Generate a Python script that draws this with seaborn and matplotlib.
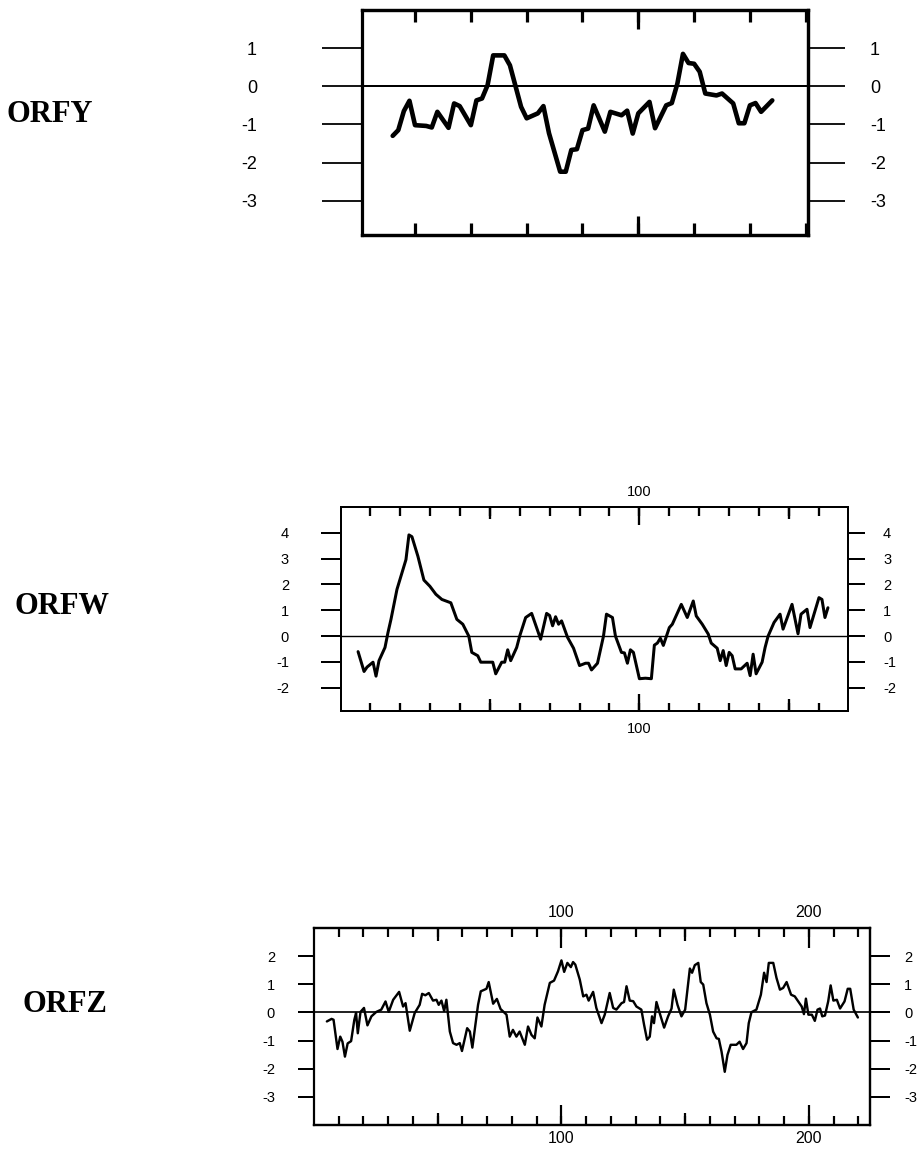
import matplotlib
matplotlib.use("Agg")
import numpy as np
import matplotlib.pyplot as plt
import seaborn as sns

# hydropathy profiles (residue position, value)
orfy_pos = [6, 7, 8, 9, 10, 12, 13, 14, 16, 17, 18, 20, 21, 22, 23, 24, 26, 27, 29, 30,
            32, 33, 34, 36, 37, 38, 39, 40, 41, 42, 44, 45, 47, 48, 49, 50, 52, 53, 55, 56,
            57, 58, 59, 60, 61, 62, 64, 65, 67, 68, 69, 70, 71, 72, 74]
orfy_val = [-1.30, -1.15, -0.65, -0.38, -1.02, -1.04, -1.08, -0.67, -1.09, -0.45, -0.52, -1.02,
            -0.37, -0.32, 0.03, 0.81, 0.81, 0.55, -0.54, -0.84, -0.71, -0.52, -1.23, -2.24,
            -2.24, -1.67, -1.65, -1.15, -1.11, -0.50, -1.19, -0.67, -0.76, -0.64, -1.24, -0.71,
            -0.41, -1.10, -0.50, -0.44, 0.07, 0.85, 0.61, 0.59, 0.38, -0.19, -0.24, -0.19,
            -0.45, -0.97, -0.97, -0.50, -0.44, -0.67, -0.37]

orfw_pos = [6, 8, 9, 11, 12, 13, 15, 16, 17, 19, 22, 23, 24, 26, 28, 30, 32, 34, 37, 39,
            41, 43, 44, 46, 47, 51, 52, 54, 55, 56, 57, 59, 60, 62, 64, 67, 69, 70, 71, 72,
            73, 74, 76, 78, 80, 82, 83, 84, 86, 88, 89, 91, 92, 94, 95, 96, 97, 98, 100, 102,
            104, 105, 106, 107, 108, 110, 111, 114, 116, 118, 119, 121, 123, 124, 126, 127, 128, 129, 130, 131,
            132, 134, 136, 137, 138, 139, 141, 142, 143, 145, 147, 148, 151, 153, 154, 156, 157, 160, 161, 162,
            163]
orfw_val = [-0.60, -1.37, -1.20, -1.01, -1.55, -0.95, -0.44, 0.14, 0.65, 1.81, 2.96, 3.92, 3.85,
            3.09, 2.17, 1.93, 1.62, 1.42, 1.29, 0.65, 0.46, 0.00, -0.63, -0.76, -1.01, -1.01,
            -1.46, -1.01, -1.01, -0.53, -0.95, -0.44, 0.00, 0.72, 0.88, -0.12, 0.88, 0.80, 0.40,
            0.75, 0.46, 0.59, -0.05, -0.47, -1.14, -1.05, -1.05, -1.31, -1.05, 0.00, 0.85, 0.72,
            0.00, -0.63, -0.65, -1.05, -0.53, -0.63, -1.65, -1.63, -1.65, -0.35, -0.27, -0.08,
            -0.36, 0.33, 0.46, 1.23, 0.72, 1.36, 0.78, 0.46, 0.08, -0.27, -0.47, -0.95, -0.56,
            -1.14, -0.63, -0.76, -1.27, -1.27, -1.05, -1.53, -0.70, -1.46, -1.01, -0.44, 0.00,
            0.53, 0.85, 0.27, 1.23, 0.09, 0.85, 1.04, 0.33, 1.49, 1.42, 0.72, 1.10]

orfz_pos = [5.2, 7.1, 7.9, 9.5, 10.6, 11.5, 12.5, 13.6, 15.0, 16.3, 17.0, 17.7, 18.8, 20.2,
            21.6, 23.2, 25.2, 27.2, 28.9, 30.2, 32.0, 34.4, 36.0, 37.0, 38.7, 40.7, 42.7, 43.7,
            45.0, 46.4, 48.1, 49.5, 50.4, 51.5, 52.6, 53.5, 54.9, 56.2, 57.6, 58.9, 59.8, 61.9,
            63.0, 64.0, 66.3, 67.4, 69.7, 70.6, 72.4, 73.9, 75.4, 77.8, 79.1, 80.4, 81.8, 83.1,
            85.2, 86.5, 87.9, 89.2, 90.3, 91.9, 93.2, 95.3, 97.0, 98.6, 100.0, 101.1, 102.4,
            103.8, 104.7, 105.6, 107.4, 108.8, 110.1, 111.0, 112.8, 114.1, 116.2, 117.5, 119.5,
            120.9, 122.2, 124.3, 125.3, 126.3, 127.6, 129.0, 130.3, 132.3, 133.4, 134.6, 135.7,
            136.6, 137.4, 138.4, 139.7, 141.5, 143.1, 144.5, 145.4, 146.9, 148.5, 150.0, 151.9,
            152.8, 153.9, 155.3, 156.3, 157.3, 158.6, 160.0, 161.3, 162.7, 163.6, 164.7, 166.0,
            167.1, 168.4, 170.7, 172.0, 173.4, 174.8, 175.7, 176.8, 178.8, 180.6, 181.9, 182.9,
            183.8, 185.6, 186.9, 188.3, 189.6, 191.0, 192.8, 194.3, 195.7, 197.1, 198.0, 198.8,
            199.8, 201.2, 202.4, 203.5, 204.5, 205.4, 206.5, 207.8, 208.8, 209.9, 211.3, 212.6,
            214.4, 215.7, 216.7, 218.1, 219.8]
orfz_val = [-0.32, -0.23, -0.26, -1.30, -0.86, -1.04, -1.57, -1.10, -1.02, -0.26, -0.02, -0.74,
            0.02, 0.16, -0.46, -0.14, 0.02, 0.10, 0.39, 0.02, 0.45, 0.73, 0.21, 0.33, -0.65,
            -0.02, 0.27, 0.66, 0.61, 0.69, 0.42, 0.45, 0.27, 0.42, 0.05, 0.45, -0.68, -1.09,
            -1.15, -1.09, -1.37, -0.56, -0.68, -1.25, 0.27, 0.75, 0.84, 1.08, 0.31, 0.48, 0.12,
            -0.08, -0.86, -0.62, -0.86, -0.68, -1.15, -0.50, -0.80, -0.92, -0.18, -0.50, 0.27,
            1.05, 1.13, 1.46, 1.85, 1.44, 1.76, 1.61, 1.79, 1.70, 1.17, 0.57, 0.63, 0.42, 0.73,
            0.16, -0.38, -0.08, 0.69, 0.16, 0.10, 0.33, 0.37, 0.93, 0.42, 0.40, 0.21, 0.10,
            -0.44, -0.97, -0.86, -0.14, -0.38, 0.37, -0.02, -0.54, -0.14, 0.14, 0.81, 0.27,
            -0.14, 0.10, 1.56, 1.41, 1.68, 1.76, 1.08, 0.99, 0.33, -0.08, -0.68, -0.92, -0.94,
            -1.39, -2.11, -1.51, -1.15, -1.15, -1.04, -1.30, -1.09, -0.38, 0.01, 0.10, 0.63,
            1.41, 1.08, 1.76, 1.76, 1.23, 0.81, 0.87, 1.08, 0.63, 0.57, 0.39, 0.21, -0.06, 0.49,
            -0.08, -0.08, -0.30, 0.10, 0.14, -0.14, -0.11, 0.39, 0.96, 0.42, 0.45, 0.14, 0.39,
            0.84, 0.84, 0.10, -0.18]

names = ["ORFY", "ORFW", "ORFZ"]
yticks = [[1, 0, -1, -2, -3], [4, 3, 2, 1, 0, -1, -2], [2, 1, 0, -1, -2, -3]]
xlabeled = [[], [100], [100, 200]]
xmedium = [[50], [50, 150], [50, 150]]

sns.set_style("white", rc={"axes.edgecolor": "black", "xtick.color": "black",
                           "ytick.color": "black", "text.color": "black"})
plt.rcParams["font.family"] = ["Liberation Sans", "DejaVu Sans"]
plt.rcParams["axes.unicode_minus"] = False

W, H = 921, 1150
P = 0.72  # points per pixel at 100 dpi

fig = plt.figure(figsize=(W / 100, H / 100), dpi=100)


def rect(l, t, r, b):
    return [l / W, 1 - b / H, (r - l) / W, (b - t) / H]


# layout / style per panel, in pixels
cfg = [
    dict(box=(362, 10, 808, 235), xlim=(0.5, 80.4), ylim=(-3.9, 2.0), lw=4.6, spine=3.2,
         zero=2.0, tw=3.2, tmin=12, tmed=19, tmaj=19, yl=40, yr=37, ytw=1.8,
         padl=65, padr=25, padt=8, padb=10, yfs=13, xfs=11, title=(7, 114)),
    dict(box=(341, 507, 848, 711), xlim=(0.3, 169.7), ylim=(-2.9, 5.0), lw=3.0, spine=2.0,
         zero=1.4, tw=2.3, tmin=8.5, tmed=12, tmaj=17.5, yl=20, yr=17, ytw=2.0,
         padl=32, padr=18, padt=8, padb=11, yfs=10.5, xfs=10.5, title=(14, 607)),
    dict(box=(314, 928, 870, 1125), xlim=(0.0, 224.7), ylim=(-4.0, 3.0), lw=2.4, spine=2.2,
         zero=1.7, tw=2.2, tmin=9, tmed=12.5, tmaj=20, yl=16, yr=20, ytw=2.0,
         padl=23, padr=14, padt=8, padb=6, yfs=10.5, xfs=11.5, title=(22, 1005)),
]
series = [(orfy_pos, orfy_val), (orfw_pos, orfw_val), (orfz_pos, orfz_val)]

for i, c in enumerate(cfg):
    ax = fig.add_axes(rect(*c["box"]))
    x, y = series[i]
    ax.axhline(0, color="black", lw=c["zero"] * P, zorder=1)
    sns.lineplot(x=x, y=y, ax=ax, color="black", linewidth=c["lw"] * P,
                 sort=False, estimator=None, zorder=3)
    ax.set_xlim(*c["xlim"])
    ax.set_ylim(*c["ylim"])
    ax.set_xlabel("")
    ax.set_ylabel("")
    for s in ax.spines.values():
        s.set_linewidth(c["spine"] * P)
        s.set_color("black")

    # minor ticks every 10 residues, top and bottom, pointing in
    ax.set_xticks(np.arange(10, c["xlim"][1], 10))
    ax.tick_params(axis="x", direction="in", top=True, bottom=True, labelbottom=False,
                   labeltop=False, length=c["tmin"] * P, width=c["tw"] * P)

    # left y axis
    yt = yticks[i]
    ax.set_yticks(yt, labels=[str(v) for v in yt])
    ax.tick_params(axis="y", direction="out", left=True, right=False,
                   length=c["yl"] * P, width=c["ytw"] * P, pad=c["padl"] * P,
                   labelsize=c["yfs"])

    # right y axis
    ry = ax.secondary_yaxis("right")
    ry.set_yticks(yt, labels=[str(v) for v in yt])
    ry.tick_params(axis="y", direction="out", length=c["yr"] * P, width=c["ytw"] * P,
                   pad=c["padr"] * P, labelsize=c["yfs"])
    ry.spines["right"].set_linewidth(c["spine"] * P)

    # longer ticks at 50s and labelled 100s, top and bottom
    for side, pad in (("top", c["padt"]), ("bottom", c["padb"])):
        sx = ax.secondary_xaxis(side)
        sx.set_xticks(xlabeled[i], labels=[str(v) for v in xlabeled[i]])
        sx.set_xticks(xmedium[i], minor=True)
        sx.tick_params(axis="x", which="major", direction="in", length=c["tmaj"] * P,
                       width=c["tw"] * P, pad=pad * P, labelsize=c["xfs"])
        sx.tick_params(axis="x", which="minor", direction="in", length=c["tmed"] * P,
                       width=c["tw"] * P)
        sx.spines[side].set_linewidth(c["spine"] * P)

    tx, ty = c["title"]
    fig.text(tx / W, 1 - ty / H, names[i], fontfamily=["Liberation Serif", "DejaVu Serif"],
             fontweight="bold", fontsize=22, ha="left", va="center")

fig.savefig("out.png", dpi=100)
